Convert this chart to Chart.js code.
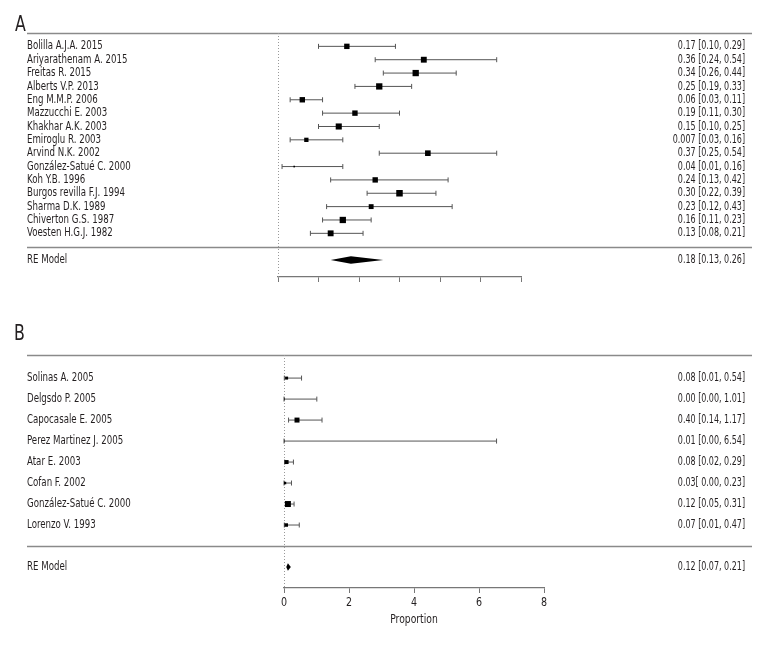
<!DOCTYPE html>
<html><head><meta charset="utf-8">
<script src="https://cdn.jsdelivr.net/npm/chart.js@4"></script>
<style>
html,body{margin:0;padding:0;background:#fff;width:780px;height:660px;overflow:hidden}
.wrap{position:absolute;left:0;width:780px}
</style></head><body>
<div class="wrap" style="top:0;height:300px"><canvas id="cA" width="780" height="300"></canvas></div>
<div class="wrap" style="top:300px;height:360px"><canvas id="cB" width="780" height="360"></canvas></div>
<script>
// ---------- Panel A data ----------
const studiesA = ["Bolilla A.J.A. 2015","Ariyarathenam A. 2015","Freitas R. 2015","Alberts V.P. 2013","Eng M.M.P. 2006","Mazzucchi E. 2003","Khakhar A.K. 2003","Emiroglu R. 2003","Arvind N.K. 2002","González-Satué C. 2000","Koh Y.B. 1996","Burgos revilla F.J. 1994","Sharma D.K. 1989","Chiverton G.S. 1987","Voesten H.G.J. 1982"];
const estA  = [0.17,0.36,0.34,0.25,0.06,0.19,0.15,0.07,0.37,0.04,0.24,0.30,0.23,0.16,0.13];
const lowA  = [0.10,0.24,0.26,0.19,0.03,0.11,0.10,0.03,0.25,0.01,0.13,0.22,0.12,0.11,0.08];
const highA = [0.29,0.54,0.44,0.33,0.11,0.30,0.25,0.16,0.54,0.16,0.42,0.39,0.43,0.23,0.21];
const weightsA = [5.5,6.5,7.5,7.5,5.5,5.5,7,3.5,6,0.5,5.5,8,4.5,7.5,6.5];
const estTextA = ["0.17 [0.10, 0.29]","0.36 [0.24, 0.54]","0.34 [0.26, 0.44]","0.25 [0.19, 0.33]","0.06 [0.03, 0.11]","0.19 [0.11, 0.30]","0.15 [0.10, 0.25]","0.007 [0.03, 0.16]","0.37 [0.25, 0.54]","0.04 [0.01, 0.16]","0.24 [0.13, 0.42]","0.30 [0.22, 0.39]","0.23 [0.12, 0.43]","0.16 [0.11, 0.23]","0.13 [0.08, 0.21]"];
const reA = [0.18, 0.13, 0.26];           // estimate, lower, upper
const reTextA = "0.18 [0.13, 0.26]";
const ticksA = [0,0.1,0.2,0.3,0.4,0.5,0.6];

// ---------- Panel B data ----------
const studiesB = ["Solinas A. 2005","Delgsdo P. 2005","Capocasale E. 2005","Perez Martinez J. 2005","Atar E. 2003","Cofan F. 2002","González-Satué C. 2000","Lorenzo V. 1993"];
const estB  = [0.08,0.00,0.40,0.01,0.08,0.03,0.12,0.07];
const lowB  = [0.01,0.00,0.14,0.00,0.02,0.00,0.05,0.01];
const highB = [0.54,1.01,1.17,6.54,0.29,0.23,0.31,0.47];
const weightsB = [1.7,0.45,4.7,0.2,3.0,1.2,6.8,2.3];
const estTextB = ["0.08 [0.01, 0.54]","0.00 [0.00, 1.01]","0.40 [0.14, 1.17]","0.01 [0.00, 6.54]","0.08 [0.02, 0.29]","0.03[ 0.00, 0.23]","0.12 [0.05, 0.31]","0.07 [0.01, 0.47]"];
const reB = [0.12, 0.07, 0.21];
const reTextB = "0.12 [0.07, 0.21]";
const ticksB = [0,2,4,6,8];
const tickLabelsB = ["0","2","4","6","8"];
const xTitleB = "Proportion";

const FONT = "'Liberation Sans Narrow','DejaVu Sans Condensed','Arial Narrow',sans-serif";
const TXT = '#231f20';

// draw real text, horizontally condensed to mimic the narrow typeface of the original
function condText(ctx, s, x, y, align, sx) {
  ctx.save();
  ctx.translate(x, y);
  ctx.scale(sx, 1);
  ctx.textAlign = align;
  ctx.fillText(s, 0, 0);
  ctx.restore();
}

function forestPlugin(cfg) {
  return {
    id: 'forest' + cfg.letter,
    beforeDatasetsDraw(chart) {
      const ctx = chart.ctx, xs = chart.scales.x, ys = chart.scales.y, ca = chart.chartArea;
      ctx.save();
      ctx.strokeStyle = '#8a8a8a'; ctx.lineWidth = 1.3;
      [cfg.topRow, 2].forEach(r => {
        const y = Math.round(ys.getPixelForValue(r)) + 0.5;
        ctx.beginPath(); ctx.moveTo(27, y); ctx.lineTo(752, y); ctx.stroke();
      });
      ctx.strokeStyle = '#999'; ctx.lineWidth = 1; ctx.setLineDash([1, 2]);
      const x0 = Math.round(xs.getPixelForValue(0)) + 0.5;
      ctx.beginPath(); ctx.moveTo(x0, ca.top); ctx.lineTo(x0, ca.bottom); ctx.stroke();
      ctx.setLineDash([]);
      ctx.strokeStyle = '#555'; ctx.lineWidth = 1;
      cfg.low.forEach((lo, i) => {
        const y = ys.getPixelForValue(cfg.rowOf(i));
        const x1 = xs.getPixelForValue(lo), x2 = xs.getPixelForValue(cfg.high[i]);
        ctx.beginPath();
        ctx.moveTo(x1, y); ctx.lineTo(x2, y);
        ctx.moveTo(x1, y - 2.5); ctx.lineTo(x1, y + 2.5);
        ctx.moveTo(x2, y - 2.5); ctx.lineTo(x2, y + 2.5);
        ctx.stroke();
      });
      const yr = ys.getPixelForValue(1);
      ctx.fillStyle = '#000';
      ctx.beginPath();
      ctx.moveTo(xs.getPixelForValue(cfg.re[1]), yr);
      ctx.lineTo(xs.getPixelForValue(cfg.re[0]), yr - 3.8);
      ctx.lineTo(xs.getPixelForValue(cfg.re[2]), yr);
      ctx.lineTo(xs.getPixelForValue(cfg.re[0]), yr + 3.8);
      ctx.closePath(); ctx.fill();
      ctx.restore();
    },
    afterDraw(chart) {
      const ctx = chart.ctx, xs = chart.scales.x, ys = chart.scales.y, ca = chart.chartArea;
      ctx.save();
      ctx.fillStyle = TXT;
      ctx.textBaseline = 'middle';
      ctx.font = '12px ' + FONT;
      cfg.studies.forEach((s, i) => {
        const y = ys.getPixelForValue(cfg.rowOf(i));
        condText(ctx, s, 27, y, 'left', 0.8);
        condText(ctx, cfg.estText[i], 745, y, 'right', 0.74);
      });
      const yr = ys.getPixelForValue(1);
      condText(ctx, 'RE Model', 27, yr, 'left', 0.8);
      condText(ctx, cfg.reText, 745, yr, 'right', 0.74);
      // tick labels
      if (cfg.tickLabels) {
        ctx.font = '12.5px ' + FONT;
        cfg.ticks.forEach((v, i) => {
          condText(ctx, cfg.tickLabels[i], xs.getPixelForValue(v), ca.bottom + 14.5, 'center', 0.85);
        });
      }
      if (cfg.xTitle) {
        ctx.font = '12.5px ' + FONT;
        condText(ctx, cfg.xTitle, (ca.left + ca.right) / 2, cfg.xTitleY, 'center', 0.82);
      }
      ctx.font = '22px ' + FONT;
      ctx.textBaseline = 'alphabetic';
      condText(ctx, cfg.letter, cfg.letterX, cfg.letterY, 'left', 0.8);
      ctx.restore();
    }
  };
}

function makeChart(id, cfg) {
  const n = cfg.studies.length;
  cfg.rowOf = i => n + 2 - i;
  const data = cfg.est.map((v, i) => ({ x: v, y: cfg.rowOf(i) }));
  return new Chart(document.getElementById(id), {
    type: 'scatter',
    data: { datasets: [{
      data,
      pointStyle: 'rect',
      pointRadius: cfg.weights.map(w => 2.3 * Math.sqrt(w) / Math.SQRT2),
      backgroundColor: '#000', borderColor: '#000', borderWidth: 0,
      pointHoverRadius: 0
    }]},
    options: {
      responsive: false, animation: false, events: [],
      layout: { padding: cfg.padding },
      plugins: { legend: { display: false }, tooltip: { enabled: false } },
      scales: {
        x: {
          type: 'linear', min: cfg.ticks[0], max: cfg.ticks[cfg.ticks.length - 1],
          afterBuildTicks: s => { s.ticks = cfg.ticks.map(v => ({ value: v })); },
          afterFit: s => { s.height = 0; },
          grid: { display: true, drawOnChartArea: false, drawTicks: true, tickLength: 5, color: '#777', lineWidth: 1 },
          border: { display: true, color: '#777', width: 1.3 },
          ticks: { display: false }
        },
        y: { type: 'linear', display: false, min: cfg.yMin, max: cfg.topRow }
      }
    },
    plugins: [forestPlugin(cfg)]
  });
}

makeChart('cA', {
  letter: 'A', letterX: 15, letterY: 31,
  studies: studiesA, est: estA, low: lowA, high: highA, weights: weightsA,
  estText: estTextA, re: reA, reText: reTextA, ticks: ticksA,
  topRow: 18, yMin: -0.27,
  padding: { left: 278, right: 259, top: 33, bottom: 23 }
});

makeChart('cB', {
  letter: 'B', letterX: 14, letterY: 40,
  studies: studiesB, est: estB, low: lowB, high: highB, weights: weightsB,
  estText: estTextB, re: reB, reText: reTextB, ticks: ticksB, tickLabels: tickLabelsB,
  topRow: 11.1, yMin: 0,
  xTitle: xTitleB, xTitleY: 320,
  padding: { left: 284, right: 236, top: 55, bottom: 72 }
});
</script>
</body></html>
